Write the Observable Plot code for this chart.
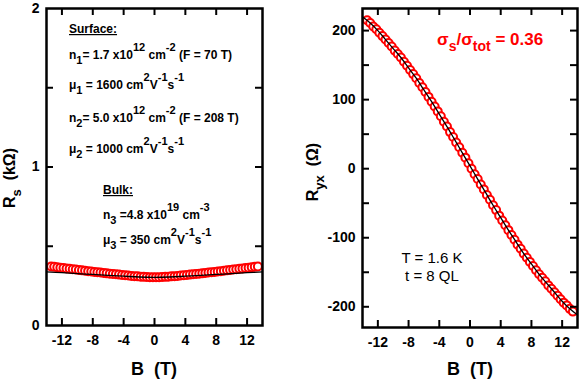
<!DOCTYPE html>
<html><head><meta charset="utf-8">
<script src="https://cdn.jsdelivr.net/npm/d3@7"></script>
<script src="https://cdn.jsdelivr.net/npm/@observablehq/plot@0.6"></script>
<style>
body{margin:0;background:#fff;}
#wrap{position:relative;width:580px;height:382px;overflow:hidden;}
#wrap svg{position:absolute;top:0;font-family:"Liberation Sans",Arial,sans-serif;overflow:visible;}
#wrap svg text{white-space:pre;}
g[aria-label$="tick label"] text{font-weight:bold;}
</style></head><body><div id="wrap"></div>
<script>
// ---------- data ----------
const B_pts = [-13.4,-13.0,-12.6,-12.2,-11.8,-11.4,-11.0,-10.6,-10.2,-9.8,-9.4,-9.0,-8.6,-8.2,-7.8,-7.4,-7.0,-6.6,-6.2,-5.8,-5.4,-5.0,-4.6,-4.2,-3.8,-3.4,-3.0,-2.6,-2.2,-1.8,-1.4,-1.0,-0.6,-0.2,
  0.2,0.6,1.0,1.4,1.8,2.2,2.6,3.0,3.4,3.8,4.2,4.6,5.0,5.4,5.8,6.2,6.6,7.0,7.4,7.8,8.2,8.6,9.0,9.4,9.8,10.2,10.6,11.0,11.4,11.8,12.2,12.6,13.0,13.4];
const Rs_pts = [0.372,0.370,0.367,0.365,0.362,0.360,0.358,0.355,0.353,0.350,0.348,0.346,0.343,0.341,0.338,0.336,0.334,0.332,0.329,0.327,0.325,0.323,0.321,0.319,0.317,0.315,0.313,0.311,0.310,0.308,0.307,0.306,0.305,0.305,
  0.305,0.305,0.306,0.307,0.308,0.310,0.311,0.313,0.315,0.317,0.319,0.321,0.323,0.325,0.327,0.329,0.332,0.334,0.336,0.338,0.341,0.343,0.346,0.348,0.350,0.353,0.355,0.358,0.360,0.362,0.365,0.367,0.370,0.372];
const Ryx_pts = [215,211,206,202,197,192,187,182,177,171,166,161,155,149,143,137,131,124,118,111,104,97,90,83,76,68,61,53,46,38,31,23,16,8,
  0,-8,-15,-23,-30,-38,-45,-53,-60,-68,-75,-82,-89,-96,-103,-110,-116,-123,-129,-135,-141,-147,-153,-158,-163,-169,-174,-179,-184,-189,-194,-198,-203,-207];
const B_fitRs = [-14,-12,-10,-8,-6,-4,-2,0,2,4,6,8,10,12,14];
const Rs_fit = [0.338,0.333,0.327,0.322,0.316,0.311,0.306,0.304,0.306,0.311,0.316,0.322,0.327,0.333,0.338];
const B_fitRyx = [-14,-13,-12,-11,-10,-9,-8,-7,-6,-5,-4,-3,-2,-1,0,1,2,3,4,5,6,7,8,9,10,11,12,13,14];
const Ryx_fit = [220,211,200,187,174,161,146,131,114,97,79,61,42,23,4,-15,-34,-53,-71,-89,-106,-123,-138,-153,-166,-179,-192,-203,-212];
const xTicks = [-12,-8,-4,0,4,8,12];
const rsTickLabels = [0,1,2];
const rsTicks = [0.5,1,1.5];
const ryxTickLabels = [-200,-100,0,100,200];
const ryxTicks = [-200,-150,-100,-50,0,50,100,150,200];

const ptsL = B_pts.map((b,i)=>({B:b, v:Rs_pts[i]}));
const ptsR = B_pts.map((b,i)=>({B:b, v:Ryx_pts[i]}));
const fitL = B_fitRs.map((b,i)=>({B:b, v:Rs_fit[i]}));
const fitR = B_fitRyx.map((b,i)=>({B:b, v:Ryx_fit[i]}));

const FONT = '"Liberation Sans", Arial, sans-serif';
const fmt = d => String(d);
const TL = 7; // inward tick length

function axes(xt, ytLab, yt, W, H) {
  return [
    Plot.axisX({anchor:"bottom", ticks:xt, tickSize:0, tickPadding:10, fontSize:14, fontWeight:"bold", tickFormat:fmt, label:null}),
    Plot.axisY({anchor:"left", ticks:ytLab, tickSize:0, tickPadding:7, fontSize:14, fontWeight:"bold", tickFormat:fmt, label:null}),
    // inward ticks on all four sides
    Plot.tickX(xt, {x:d=>d, insetTop:H-TL, stroke:"black", strokeWidth:2}),
    Plot.tickX(xt, {x:d=>d, insetBottom:H-TL, stroke:"black", strokeWidth:2}),
    Plot.tickY(yt, {y:d=>d, insetRight:W-TL, stroke:"black", strokeWidth:2}),
    Plot.tickY(yt, {y:d=>d, insetLeft:W-TL, stroke:"black", strokeWidth:2}),
    Plot.frame({stroke:"black", strokeWidth:2.5})
  ];
}

const L = {width:290, height:382, marginLeft:46, marginRight:28, marginTop:8, marginBottom:57};
const R = {width:290, height:382, marginLeft:72, marginRight:3, marginTop:8, marginBottom:55};
const dims = o => [o.width-o.marginLeft-o.marginRight, o.height-o.marginTop-o.marginBottom];

const left = Plot.plot({
  ...L,
  style:{fontFamily:FONT, background:"transparent", color:"black"},
  x:{domain:[-14,14]},
  y:{domain:[0,2]},
  marks:[
    Plot.dot(ptsL, {x:"B", y:"v", r:4, stroke:"#ff0000", fill:"white", strokeWidth:2}),
    Plot.line(fitL, {x:"B", y:"v", stroke:"black", strokeWidth:1.3, curve:"catmull-rom"}),
    ...axes(xTicks, rsTickLabels, rsTicks, ...dims(L))
  ]
});
const right = Plot.plot({
  ...R,
  style:{fontFamily:FONT, background:"transparent", color:"black"},
  x:{domain:[-14,14]},
  y:{domain:[-230,232]},
  marks:[
    Plot.dot(ptsR, {x:"B", y:"v", r:4, stroke:"#ff0000", fill:"white", strokeWidth:2}),
    Plot.line(fitR, {x:"B", y:"v", stroke:"black", strokeWidth:1.3, curve:"catmull-rom"}),
    ...axes(xTicks, ryxTickLabels, ryxTicks, ...dims(R))
  ]
});
right.style.left = "290px";
left.style.left = "0px";
const wrap = document.getElementById("wrap");
wrap.appendChild(left);
wrap.appendChild(right);

// rich text helper (sub/superscripts)
function rich(svg, x, y, parts, o={}) {
  const size = o.size || 12;
  const t = d3.select(svg).append("text")
    .attr("x", x).attr("y", y)
    .attr("font-family", FONT).attr("font-size", size)
    .attr("font-weight", o.weight || "bold")
    .attr("fill", o.fill || "black")
    .attr("text-anchor", o.anchor || "start")
    .style("white-space", "pre");
  if (o.rotate) t.attr("transform", `rotate(-90,${x},${y})`);
  if (o.underline) t.attr("text-decoration", "underline");
  const supOff = o.supOff ?? -0.65*size, subOff = o.subOff ?? 0.42*size;
  const small = o.small || size*0.92;
  let cur = 0;
  for (const p of parts) {
    const [s, kind] = Array.isArray(p) ? p : [p, null];
    const off = kind === "sup" ? supOff : kind === "sub" ? subOff : 0;
    t.append("tspan").attr("dy", off - cur).attr("font-size", kind ? small : size).text(s);
    cur = off;
  }
  return t;
}

// left panel annotations
rich(left, 69, 33, ["Surface:"], {underline:true});
rich(left, 69, 59, ["n", ["1","sub"], "= 1.7 x10", ["12","sup"], " cm", ["-2","sup"], " (F = 70 T)"]);
rich(left, 69, 89, ["\u03bc", ["1","sub"], " = 1600 cm", ["2","sup"], "V", ["-1","sup"], "s", ["-1","sup"]]);
rich(left, 69, 122, ["n", ["2","sub"], "= 5.0 x10", ["12","sup"], " cm", ["-2","sup"], " (F = 208 T)"]);
rich(left, 69, 153, ["\u03bc", ["2","sub"], " = 1000 cm", ["2","sup"], "V", ["-1","sup"], "s", ["-1","sup"]]);
rich(left, 103, 194, ["Bulk:"], {underline:true});
rich(left, 103, 219, ["n", ["3","sub"], " =4.8 x10", ["19","sup"], " cm", ["-3","sup"]]);
rich(left, 103, 244, ["\u03bc", ["3","sub"], " = 350 cm", ["2","sup"], "V", ["-1","sup"], "s", ["-1","sup"]]);
rich(left, 154, 375, ["B  (T)"], {size:18, anchor:"middle"});
rich(left, 15, 178, ["R", ["s","sub"], "  (k\u03a9)"], {size:16, anchor:"middle", rotate:true, subOff:6, small:13});

// right panel annotations
rich(right, 147, 45, ["\u03c3", ["s","sub"], "/\u03c3", ["tot","sub"], " = 0.36"], {size:17, fill:"#ff0000", subOff:6, small:14});
rich(right, 142, 263, ["T = 1.6 K"], {size:15, weight:"normal", anchor:"middle"});
rich(right, 142, 281, ["t = 8 QL"], {size:15, weight:"normal", anchor:"middle"});
rich(right, 180, 375, ["B  (T)"], {size:18, anchor:"middle"});
rich(right, 28, 172, ["R", ["yx","sub"], "  (\u03a9)"], {size:16, anchor:"middle", rotate:true, subOff:6, small:13});
</script></body></html>
